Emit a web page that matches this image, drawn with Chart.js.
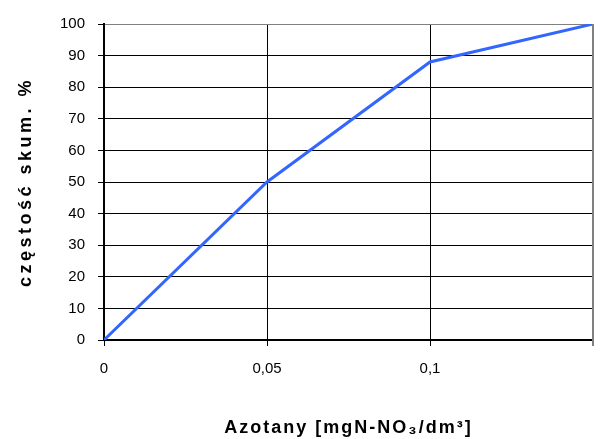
<!DOCTYPE html>
<html lang="pl">
<head>
  <meta charset="UTF-8" />
  <title>Azotany - częstość skumulowana</title>
  <script src="https://cdn.jsdelivr.net/npm/chart.js"></script>
  <style>
    html, body {
      margin: 0;
      padding: 0;
      background: #fff;
    }
    #wrap {
      width: 611px;
      height: 439px;
    }
  </style>
</head>
<body>
  <div id="wrap"><canvas id="cumChart" width="611" height="439"></canvas></div>

  <script>
    // data
    const xValues = [0, 0.05, 0.1, 0.15];
    const yValues = [0, 50, 88, 100];
    const xTickValues = [0, 0.05, 0.1, 0.15];
    const xTickLabels = ['0', '0,05', '0,1', ''];
    const yTickValues = [0, 10, 20, 30, 40, 50, 60, 70, 80, 90, 100];

    const points = xValues.map((x, i) => ({ x: x, y: yValues[i] }));
    const fontFamily = '"Liberation Sans", Arial, sans-serif';

    // titles in the original are spaced out a bit
    const titleSpacing = { x: '2px', y: '3.5px' };

    new Chart(document.getElementById('cumChart'), {
      type: 'line',
      data: {
        datasets: [{
          data: points,
          borderColor: '#3366ff',
          borderWidth: 3,
          pointRadius: 0,
          tension: 0,
          fill: false
        }]
      },
      options: {
        responsive: false,
        animation: false,
        layout: { padding: { left: 0, right: 18, top: 24, bottom: 0 } },
        plugins: {
          legend: { display: false },
          tooltip: { enabled: false }
        },
        scales: {
          x: {
            type: 'linear',
            min: 0,
            max: 0.15,
            afterBuildTicks: s => { s.ticks = xTickValues.map(v => ({ value: v })); },
            afterFit: s => { s.height = 99; },
            ticks: {
              color: '#000',
              font: { family: fontFamily, size: 15 },
              padding: 14,
              maxRotation: 0,
              callback: (v, i) => xTickLabels[i]
            },
            grid: {
              color: ctx => (ctx.tick && ctx.tick.value === 0.15 ? '#808080' : '#000'),
              tickColor: '#000',
              tickLength: 6,
              lineWidth: 1
            },
            border: { color: '#000', width: 2 },
            title: {
              display: true,
              text: 'Azotany [mgN-NO₃/dm³]',
              color: '#000',
              font: { family: fontFamily, size: 18, weight: 'bold' },
              padding: { top: 3, bottom: 0 }
            }
          },
          y: {
            min: 0,
            max: 100,
            afterBuildTicks: s => { s.ticks = yTickValues.map(v => ({ value: v })); },
            afterFit: s => { s.width = 104; },
            ticks: {
              color: '#000',
              font: { family: fontFamily, size: 15 },
              padding: 13
            },
            grid: {
              color: ctx => (ctx.tick && ctx.tick.value === 100 ? '#808080' : '#000'),
              tickColor: '#000',
              tickLength: 6,
              lineWidth: 1
            },
            border: { color: '#000', width: 2 },
            title: {
              display: true,
              text: 'częstość skum. %',
              color: '#000',
              font: { family: fontFamily, size: 18, weight: 'bold' },
              padding: { top: 15, bottom: 0 }
            }
          }
        }
      },
      plugins: [{
        id: 'titleSpacing',
        afterLayout(chart) {
          ['x', 'y'].forEach(id => {
            const s = chart.scales[id];
            if (s._spaced) return;
            const orig = s.drawTitle.bind(s);
            s.drawTitle = function () {
              this.ctx.save();
              this.ctx.letterSpacing = titleSpacing[id];
              orig();
              this.ctx.restore();
            };
            s._spaced = true;
          });
        }
      }, {
        id: 'rightBorder',
        afterDraw(chart) {
          const { ctx, chartArea } = chart;
          ctx.save();
          ctx.strokeStyle = '#808080';
          ctx.lineWidth = 2;
          ctx.beginPath();
          ctx.moveTo(chartArea.right, chartArea.top);
          ctx.lineTo(chartArea.right, chartArea.bottom + 6);
          ctx.stroke();
          ctx.restore();
        }
      }]
    });
  </script>
</body>
</html>
